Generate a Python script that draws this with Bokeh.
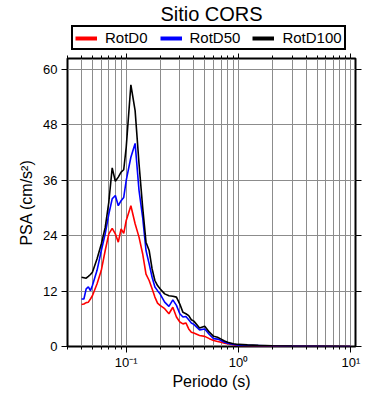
from bokeh.plotting import figure
from bokeh.layouts import column
from bokeh.models import (Range1d, LogAxis, LinearAxis, FixedTicker, Legend, LegendItem,
                          ColumnDataSource)
from bokeh.embed import file_html
from bokeh.resources import INLINE

periodo = [0.04, 0.042, 0.044, 0.046, 0.048, 0.05, 0.055, 0.06, 0.065, 0.07, 0.075, 0.08,
           0.085, 0.09, 0.095, 0.1, 0.11, 0.12, 0.13, 0.14, 0.15, 0.16, 0.17, 0.18, 0.19,
           0.2, 0.22, 0.24, 0.26, 0.28, 0.3, 0.32, 0.34, 0.36, 0.38, 0.4, 0.45, 0.5, 0.55,
           0.6, 0.65, 0.7, 0.75, 0.8, 0.9, 1.0, 1.2, 1.5, 2.0, 3.0, 4.0, 5.0, 7.5, 10.0]

rotd0 = [9.1, 9.2, 9.5, 9.6, 10.3, 11.0, 13.6, 16.5, 20.8, 24.4, 25.6, 24.4,
         22.6, 25.5, 24.5, 27.3, 30.5, 26.6, 23.7, 20.1, 15.7, 14.3, 12.5, 10.7, 9.4,
         8.9, 8.2, 7.1, 8.5, 6.4, 5.3, 4.9, 5.1, 3.8, 3.1, 2.9, 2.4, 2.2, 1.7,
         1.3, 1.1, 0.9, 0.7, 0.6, 0.36, 0.2, 0.15, 0.12, 0.08, 0.05, 0.03, 0.02, 0.01, 0.01]

rotd50 = [10.3, 10.3, 12.5, 12.9, 12.1, 13.2, 16.5, 20.8, 24.4, 28.7, 32.0, 32.7,
          30.5, 31.6, 32.3, 36.0, 41.0, 44.0, 33.8, 28.0, 20.8, 17.9, 15.0, 12.9, 12.1,
          11.4, 9.6, 8.7, 10.1, 8.9, 7.1, 6.4, 6.5, 5.8, 5.1, 4.8, 3.6, 3.8, 2.6,
          1.7, 1.6, 1.3, 0.9, 0.7, 0.45, 0.3, 0.25, 0.18, 0.1, 0.06, 0.04, 0.03, 0.015, 0.01]

rotd100 = [15.0, 14.9, 14.8, 15.2, 15.6, 16.1, 19.0, 22.2, 25.8, 31.3, 38.7, 35.8,
           36.7, 37.8, 38.3, 43.2, 56.7, 51.1, 39.6, 30.2, 22.6, 20.8, 16.8, 14.3, 13.2,
           12.5, 11.4, 11.0, 10.9, 10.7, 9.2, 7.4, 7.1, 6.7, 5.8, 5.5, 4.0, 4.4, 3.1,
           2.2, 2.0, 1.6, 1.2, 0.9, 0.6, 0.45, 0.35, 0.25, 0.15, 0.08, 0.05, 0.04, 0.02, 0.01]

series_names = ["RotD0", "RotD50", "RotD100"]
series_colors = ["red", "blue", "black"]

x_major = [0.1, 1.0, 10.0]
x_minor = [0.03, 0.04, 0.05, 0.06, 0.07, 0.08, 0.09,
           0.2, 0.3, 0.4, 0.5, 0.6, 0.7, 0.8, 0.9,
           2.0, 3.0, 4.0, 5.0, 6.0, 7.0, 8.0, 9.0]
x_labels = {0.1: "10\u207b\u00b9", 1.0: "10\u2070", 10.0: "10\u00b9"}
y_ticks = [0, 12, 24, 36, 48, 60]

FONT = "Liberation Sans"
GRID = "#8c8c8c"

src = ColumnDataSource(dict(periodo=periodo, rotd0=rotd0, rotd50=rotd50, rotd100=rotd100))

# ---- header figure: title + legend ----
head = figure(width=390, height=52, x_range=Range1d(0, 1), y_range=Range1d(0, 1),
              x_axis_location=None, y_axis_location=None,
              output_backend="svg", toolbar_location=None,
              min_border_left=67, min_border_right=35, min_border_top=25, min_border_bottom=0)
head.grid.visible = False
head.outline_line_color = None
head.title.text = "Sitio CORS"
head.title.align = "center"
head.title.text_font = FONT
head.title.text_font_size = "20px"
head.title.text_font_style = "normal"
head.title.text_color = "black"
head.title.standoff = 1

leg_renderers = [head.line(x=[0.5], y=[-5], line_color=c, line_width=4) for c in series_colors]
legend = Legend(items=[LegendItem(label=n, renderers=[r]) for n, r in zip(series_names, leg_renderers)],
                orientation="horizontal", location=(4, 2),
                border_line_color="black", border_line_width=2, border_line_alpha=1,
                background_fill_alpha=1,
                label_text_font=FONT, label_text_font_size="15px", label_text_color="black",
                glyph_width=22, glyph_height=10, label_height=10,
                label_standoff=8, spacing=12, padding=2, margin=0)
head.add_layout(legend, "center")

# ---- main figure ----
p = figure(width=390, height=348, x_axis_type="log",
           x_range=Range1d(0.03, 11), y_range=Range1d(0, 62.4),
           output_backend="svg", toolbar_location=None,
           min_border_left=67, min_border_right=35, min_border_top=6, min_border_bottom=54)

xt = FixedTicker(ticks=x_major, minor_ticks=x_minor)
yt = FixedTicker(ticks=y_ticks)

xa = p.xaxis[0]
xa.ticker = xt
xa.major_label_overrides = x_labels
xa.axis_label = "Periodo (s)"
ya = p.yaxis[0]
ya.ticker = yt
ya.axis_label = "PSA (cm/s\u00b2)"

for ax in (xa, ya):
    ax.axis_line_color = None
    ax.major_tick_line_color = "black"
    ax.minor_tick_line_color = "black"
    ax.major_tick_out = 6
    ax.major_tick_in = 0
    ax.minor_tick_out = 3
    ax.minor_tick_in = 0
    ax.major_label_text_font = FONT
    ax.major_label_text_font_size = "13px"
    ax.major_label_text_color = "black"
    ax.axis_label_text_font = FONT
    ax.axis_label_text_font_size = "16px"
    ax.axis_label_text_font_style = "normal"
    ax.axis_label_text_color = "black"
xa.major_label_standoff = 2
xa.axis_label_standoff = 0
ya.major_label_standoff = 4
ya.axis_label_standoff = 5
ya.minor_tick_line_color = None

top = LogAxis(ticker=xt, major_label_text_font_size="1px", major_label_text_alpha=0,
              major_label_standoff=0,
              axis_line_color=None, major_tick_out=5, major_tick_in=0,
              minor_tick_out=3, minor_tick_in=0)
p.add_layout(top, "above")
right = LinearAxis(ticker=yt, major_label_text_font_size="1px", major_label_text_alpha=0,
                   major_label_standoff=0,
                   axis_line_color=None, major_tick_out=6, major_tick_in=0,
                   minor_tick_line_color=None)
p.add_layout(right, "right")

p.xgrid.grid_line_color = GRID
p.xgrid.minor_grid_line_color = GRID
p.xgrid.grid_line_width = 1
p.ygrid.grid_line_color = GRID
p.ygrid.grid_line_width = 1

p.outline_line_color = "black"
p.outline_line_width = 2
p.outline_line_alpha = 1

for col, c in zip(["rotd0", "rotd50", "rotd100"], series_colors):
    p.line("periodo", col, source=src, line_color=c, line_width=1.6)

layout = column(head, p, spacing=0)
open("out.html", "w").write(file_html(layout, INLINE))
